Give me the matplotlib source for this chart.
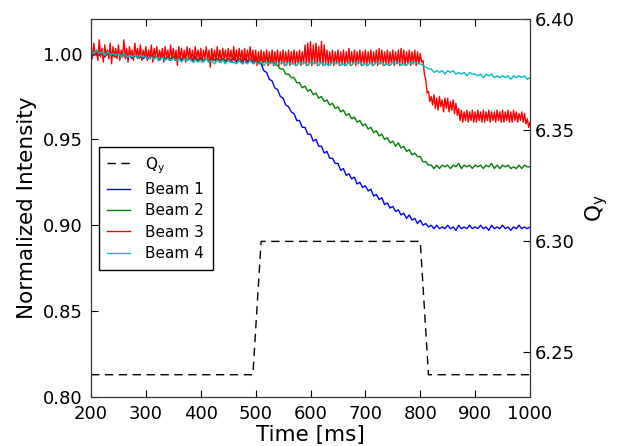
import numpy as np
import matplotlib
matplotlib.use('Agg')
import matplotlib.pyplot as plt

################## data ##################
# beams 1, 2 and 4 every 5 ms, beam 3 every 2.5 ms (it is much noisier)
t5 = np.arange(200, 1001, 5)
t25 = np.linspace(200, 1000, 321)

beam1 = [1.000, 0.999, 1.001, 0.999, 1.000, 0.998, 1.000, 0.999, 0.999, 0.998, 1.000, 0.998, 0.999, 0.998, 0.999, 0.997, 0.999, 0.998, 0.998, 0.997,
         0.998, 0.997, 0.999, 0.997, 0.998, 0.996, 0.998, 0.997, 0.998, 0.996, 0.998, 0.997, 0.997, 0.996, 0.998, 0.996, 0.997, 0.996, 0.998, 0.996,
         0.997, 0.996, 0.997, 0.995, 0.997, 0.996, 0.997, 0.995, 0.997, 0.996, 0.996, 0.995, 0.997, 0.995, 0.996, 0.995, 0.997, 0.995, 0.996, 0.995,
         0.996, 0.995, 0.994, 0.990, 0.989, 0.985, 0.984, 0.980, 0.979, 0.975, 0.974, 0.970, 0.969, 0.966, 0.965, 0.961, 0.961, 0.957, 0.957, 0.953,
         0.953, 0.949, 0.950, 0.946, 0.946, 0.942, 0.943, 0.939, 0.939, 0.936, 0.936, 0.932, 0.933, 0.929, 0.930, 0.927, 0.928, 0.924, 0.925, 0.922,
         0.923, 0.920, 0.921, 0.917, 0.918, 0.915, 0.916, 0.912, 0.913, 0.910, 0.911, 0.908, 0.909, 0.906, 0.907, 0.904, 0.906, 0.903, 0.904, 0.901,
         0.903, 0.900, 0.901, 0.899, 0.900, 0.898, 0.900, 0.898, 0.899, 0.898, 0.900, 0.898, 0.899, 0.897, 0.900, 0.898, 0.899, 0.898, 0.900, 0.898,
         0.899, 0.898, 0.900, 0.898, 0.899, 0.897, 0.900, 0.898, 0.899, 0.898, 0.900, 0.898, 0.899, 0.897, 0.899, 0.898, 0.900, 0.898, 0.899, 0.898,
         0.899]

beam2 = [1.000, 1.001, 0.999, 1.001, 1.000, 0.999, 1.000, 0.999, 1.000, 0.998, 1.000, 0.999, 0.999, 0.998, 1.000, 0.998, 0.999, 0.998, 0.999, 0.998,
         0.999, 0.997, 0.999, 0.998, 0.998, 0.997, 0.999, 0.997, 0.998, 0.997, 0.998, 0.996, 0.998, 0.997, 0.998, 0.996, 0.998, 0.997, 0.997, 0.996,
         0.998, 0.996, 0.997, 0.996, 0.998, 0.996, 0.997, 0.996, 0.997, 0.995, 0.997, 0.996, 0.998, 0.996, 0.997, 0.996, 0.998, 0.996, 0.997, 0.996,
         0.997, 0.995, 0.997, 0.995, 0.997, 0.995, 0.996, 0.994, 0.993, 0.991, 0.991, 0.988, 0.988, 0.986, 0.986, 0.983, 0.983, 0.980, 0.981, 0.978,
         0.979, 0.976, 0.977, 0.974, 0.975, 0.972, 0.973, 0.970, 0.971, 0.968, 0.969, 0.966, 0.967, 0.964, 0.965, 0.962, 0.963, 0.960, 0.961, 0.958,
         0.959, 0.956, 0.957, 0.954, 0.955, 0.952, 0.953, 0.950, 0.951, 0.948, 0.949, 0.946, 0.948, 0.945, 0.946, 0.943, 0.944, 0.941, 0.942, 0.940,
         0.940, 0.937, 0.937, 0.935, 0.935, 0.933, 0.935, 0.933, 0.935, 0.934, 0.935, 0.933, 0.935, 0.934, 0.936, 0.933, 0.935, 0.934, 0.935, 0.933,
         0.935, 0.934, 0.935, 0.933, 0.935, 0.934, 0.936, 0.933, 0.935, 0.933, 0.935, 0.934, 0.935, 0.933, 0.934, 0.933, 0.935, 0.933, 0.935, 0.934,
         0.934]

beam3 = [1.004, 0.997, 1.006, 0.999, 1.002, 0.996, 1.008, 0.998, 1.003, 0.995, 1.005, 0.999, 1.002, 0.997, 1.006, 0.994, 1.004, 0.998, 1.003, 0.997,
         1.005, 0.996, 1.002, 0.998, 1.008, 0.997, 1.003, 0.995, 1.004, 0.999, 1.002, 0.996, 1.006, 0.998, 1.003, 0.997, 1.005, 0.996, 1.002, 0.998,
         1.004, 0.996, 1.002, 0.997, 1.005, 0.995, 1.003, 0.998, 1.004, 0.996, 1.002, 0.997, 1.003, 0.995, 1.004, 0.998, 1.002, 0.996, 1.005, 0.997,
         1.003, 0.996, 1.002, 0.993, 1.004, 0.997, 1.003, 0.996, 1.002, 0.995, 1.004, 0.997, 1.003, 0.996, 1.002, 0.995, 1.004, 0.997, 1.002, 0.996,
         1.003, 0.995, 1.002, 0.997, 1.004, 0.996, 1.002, 0.992, 1.003, 0.996, 1.002, 0.995, 1.004, 0.996, 1.002, 0.995, 1.003, 0.997, 1.002, 0.995,
         1.003, 0.996, 1.002, 0.995, 1.004, 0.996, 1.002, 0.995, 1.003, 0.996, 1.002, 0.994, 1.003, 0.995, 1.002, 0.996, 1.004, 0.995, 1.002, 0.994,
         1.002, 0.993, 1.001, 0.994, 1.002, 0.993, 1.001, 0.995, 1.002, 0.993, 1.001, 0.994, 1.002, 0.993, 1.001, 0.994, 1.002, 0.993, 1.001, 0.994,
         1.002, 0.993, 1.001, 0.994, 1.002, 0.993, 1.001, 0.994, 1.002, 0.993, 1.001, 0.994, 1.002, 0.993, 1.001, 0.994, 1.005, 0.993, 1.006, 0.994,
         1.007, 0.993, 1.005, 0.994, 1.006, 0.993, 1.004, 0.994, 1.007, 0.993, 1.005, 0.994, 1.002, 0.993, 1.001, 0.994, 1.002, 0.993, 1.001, 0.994,
         1.002, 0.993, 1.001, 0.994, 1.002, 0.993, 1.001, 0.994, 1.003, 0.993, 1.001, 0.994, 1.002, 0.993, 1.001, 0.994, 1.002, 0.993, 1.001, 0.994,
         1.002, 0.993, 1.001, 0.994, 1.002, 0.993, 1.001, 0.994, 1.002, 0.993, 1.003, 0.994, 1.002, 0.993, 1.001, 0.994, 1.002, 0.993, 1.001, 0.994,
         1.002, 0.993, 1.001, 0.994, 1.002, 0.993, 1.003, 0.994, 1.002, 0.993, 1.001, 0.994, 1.002, 0.993, 1.001, 0.994, 1.002, 0.993, 1.001, 0.994,
         1.000, 0.995, 0.996, 0.988, 0.985, 0.977, 0.978, 0.972, 0.975, 0.970, 0.976, 0.968, 0.974, 0.967, 0.975, 0.969, 0.973, 0.966, 0.974, 0.968,
         0.974, 0.966, 0.972, 0.967, 0.973, 0.965, 0.971, 0.964, 0.968, 0.961, 0.967, 0.960, 0.966, 0.961, 0.967, 0.960, 0.966, 0.961, 0.967, 0.960,
         0.966, 0.960, 0.967, 0.961, 0.966, 0.960, 0.967, 0.960, 0.966, 0.961, 0.967, 0.960, 0.966, 0.961, 0.966, 0.960, 0.967, 0.961, 0.966, 0.960,
         0.967, 0.960, 0.966, 0.961, 0.967, 0.960, 0.966, 0.960, 0.967, 0.961, 0.966, 0.960, 0.965, 0.961, 0.966, 0.960, 0.965, 0.959, 0.962, 0.957,
         0.960]

beam4 = [1.001, 1.000, 1.002, 1.000, 1.001, 0.999, 1.001, 0.999, 1.000, 0.999, 1.000, 0.998, 1.000, 0.998, 0.999, 0.998, 0.999, 0.997, 0.999, 0.998,
         0.998, 0.997, 0.998, 0.997, 0.998, 0.996, 0.998, 0.996, 0.997, 0.996, 0.997, 0.996, 0.997, 0.995, 0.997, 0.996, 0.997, 0.995, 0.996, 0.995,
         0.996, 0.995, 0.997, 0.995, 0.996, 0.994, 0.996, 0.995, 0.996, 0.994, 0.996, 0.995, 0.995, 0.994, 0.996, 0.994, 0.995, 0.994, 0.996, 0.994,
         0.995, 0.994, 0.995, 0.993, 0.995, 0.994, 0.995, 0.993, 0.995, 0.994, 0.995, 0.993, 0.995, 0.994, 0.994, 0.993, 0.995, 0.994, 0.995, 0.993,
         0.995, 0.994, 0.995, 0.993, 0.995, 0.993, 0.994, 0.993, 0.995, 0.994, 0.995, 0.993, 0.994, 0.993, 0.995, 0.993, 0.995, 0.994, 0.995, 0.993,
         0.994, 0.993, 0.995, 0.993, 0.995, 0.994, 0.995, 0.993, 0.994, 0.993, 0.995, 0.994, 0.995, 0.993, 0.994, 0.993, 0.995, 0.994, 0.995, 0.994,
         0.994, 0.993, 0.992, 0.991, 0.991, 0.989, 0.990, 0.989, 0.990, 0.988, 0.990, 0.989, 0.990, 0.988, 0.989, 0.988, 0.989, 0.987, 0.989, 0.988,
         0.988, 0.987, 0.988, 0.986, 0.988, 0.987, 0.988, 0.986, 0.987, 0.986, 0.987, 0.986, 0.987, 0.985, 0.987, 0.986, 0.987, 0.986, 0.987, 0.985,
         0.986]

# tune program
t_q = [200, 495, 510, 800, 815, 1000]
qy = [6.24, 6.24, 6.30, 6.30, 6.24, 6.24]

labels = ['Beam 1', 'Beam 2', 'Beam 3', 'Beam 4']
colors = ['#0000ff', '#008000', '#ff0000', '#00bfbf']

################## plot ##################
plt.rcParams['mathtext.default'] = 'regular'
plt.rcParams['xtick.direction'] = 'in'
plt.rcParams['ytick.direction'] = 'in'

fig = plt.figure(figsize=(6.25, 4.46), dpi=100)
ax = fig.add_axes([0.1456, 0.110, 0.7024, 0.847])
ax2 = ax.twinx()

handles = []
for tt, yy, lab, col in zip([t5, t5, t25, t5], [beam1, beam2, beam3, beam4], labels, colors):
    h, = ax.plot(tt, yy, color=col, lw=1, label=lab)
    handles.append(h)

hq, = ax2.plot(t_q, qy, color='k', lw=1, dashes=(6, 4), label='$Q_y$')

ax.set_xlim(200, 1000)
ax.set_ylim(0.80, 1.02)
ax.set_yticks([0.80, 0.85, 0.90, 0.95, 1.00])
ax.set_xticks(range(200, 1001, 100))
ax2.set_ylim(6.23, 6.40)
ax2.set_yticks([6.25, 6.30, 6.35, 6.40])

ax.tick_params(axis='both', labelsize=13, pad=6, length=5, top=True)
ax2.tick_params(axis='y', labelsize=13, pad=3.5, length=5)

ax.set_xlabel('Time [ms]', fontsize=15.5, labelpad=1)
ax.set_ylabel('Normalized Intensity', fontsize=15.5)
ax2.set_ylabel('$Q_y$', fontsize=15.5, labelpad=6)

for a in (ax, ax2):
    for s in a.spines.values():
        s.set_color('#333333')

leg = ax2.legend([hq] + handles, ['$Q_y$'] + labels, loc='center left',
                 fontsize=11, fancybox=False, framealpha=1, edgecolor='k',
                 handlelength=1.5, handletextpad=1.0, borderpad=0.55,
                 labelspacing=0.42)
leg.get_frame().set_linewidth(1)

fig.savefig('out.png', dpi=100)
